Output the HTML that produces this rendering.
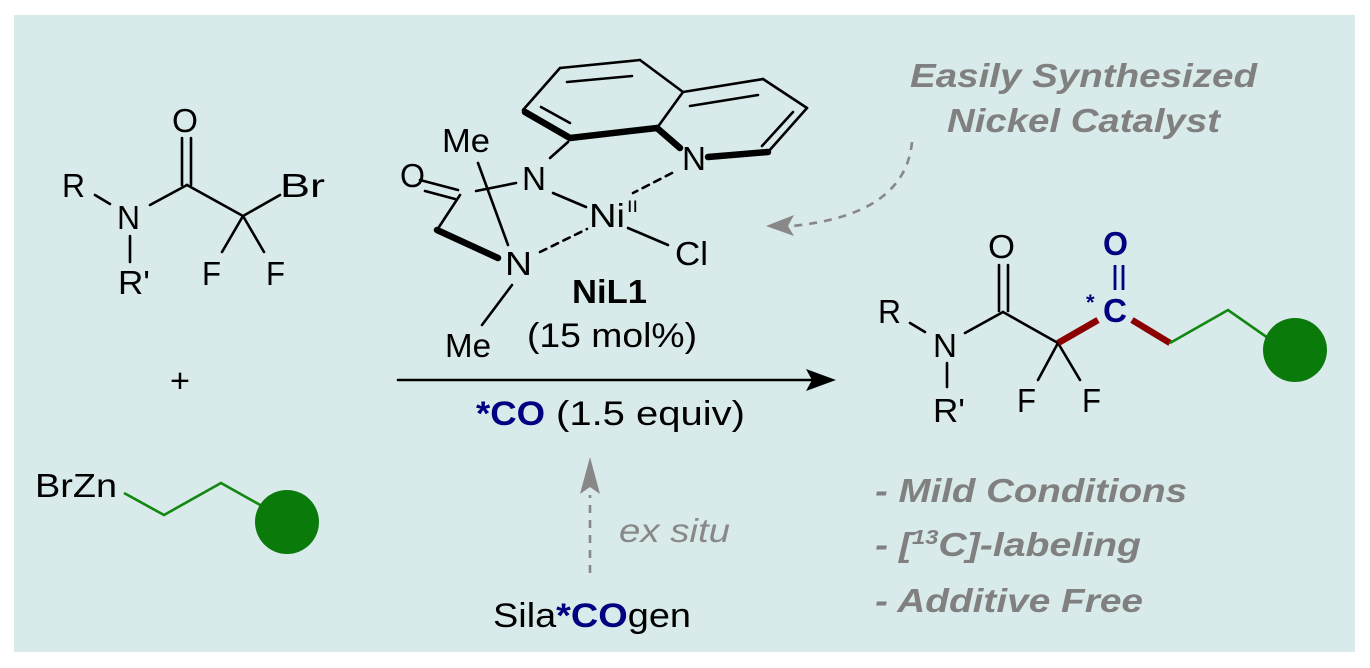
<!DOCTYPE html>
<html><head><meta charset="utf-8"><style>
html,body{margin:0;padding:0;background:#fff;}
svg{display:block;}
text{font-family:"Liberation Sans",Arial,sans-serif;}
</style></head><body>
<svg width="1370" height="668" viewBox="0 0 1370 668" xmlns="http://www.w3.org/2000/svg">
<rect x="14" y="15" width="1341" height="637" fill="#d9eaea"/>
<g stroke="#000" stroke-width="2.6" fill="none" stroke-linecap="round">
<line x1="95" y1="195" x2="110" y2="204"/>
<line x1="150" y1="205" x2="187" y2="185"/>
<line x1="182" y1="185" x2="182" y2="138"/>
<line x1="191" y1="185" x2="191" y2="138"/>
<line x1="187" y1="185" x2="243" y2="216"/>
<line x1="243" y1="216" x2="280" y2="195"/>
<line x1="243" y1="216" x2="222" y2="252"/>
<line x1="243" y1="216" x2="264" y2="252"/>
<line x1="130" y1="236" x2="130" y2="262"/>
<line x1="523" y1="110" x2="560" y2="68"/>
<line x1="560" y1="68" x2="640" y2="60"/>
<line x1="567" y1="82" x2="632" y2="76"/>
<line x1="640" y1="60" x2="683" y2="92"/>
<line x1="683" y1="92" x2="657" y2="128"/>
<line x1="683" y1="92" x2="763" y2="79"/>
<line x1="690" y1="106" x2="758" y2="95"/>
<line x1="763" y1="79" x2="807" y2="108"/>
<line x1="807" y1="108" x2="768" y2="152"/>
<line x1="793" y1="112" x2="762" y2="146"/>
<line x1="541" y1="107" x2="570" y2="123"/>
<line x1="568" y1="142" x2="550" y2="158"/>
<line x1="460" y1="195" x2="437" y2="230"/>
<line x1="458" y1="190" x2="420" y2="180"/>
<line x1="455" y1="199" x2="425" y2="191"/>
<line x1="476" y1="191" x2="516" y2="183"/>
<line x1="478" y1="163" x2="508" y2="245"/>
<line x1="512" y1="285" x2="482" y2="325"/>
<line x1="553" y1="193" x2="586" y2="207"/>
<line x1="628" y1="228" x2="668" y2="245"/>
<line x1="540" y1="252" x2="587" y2="229" stroke-dasharray="7,6"/>
<line x1="672" y1="173" x2="633" y2="193" stroke-dasharray="7,6"/>
<line x1="910" y1="323" x2="925" y2="332"/>
<line x1="965" y1="333" x2="1003" y2="312"/>
<line x1="999" y1="311" x2="999" y2="265"/>
<line x1="1008" y1="311" x2="1008" y2="265"/>
<line x1="1003" y1="312" x2="1058" y2="343"/>
<line x1="1058" y1="343" x2="1038" y2="380"/>
<line x1="1058" y1="343" x2="1080" y2="380"/>
<line x1="947" y1="363" x2="947" y2="387"/>
<line x1="398" y1="380" x2="812" y2="380"/>
</g>
<g stroke="#000" stroke-width="6.5" stroke-linecap="round" fill="none">
<line x1="525" y1="112" x2="570" y2="138"/>
<line x1="570" y1="138" x2="657" y2="128"/>
<line x1="657" y1="128" x2="680" y2="148"/>
<line x1="708" y1="157" x2="768" y2="152"/>
<line x1="437" y1="230" x2="498" y2="258"/>
</g>
<polygon points="836,380 806,369 812,380 806,391" fill="#000"/>
<g fill="#000" font-size="33">
<text x="62" y="197" textLength="23" lengthAdjust="spacingAndGlyphs">R</text>
<text x="117" y="229" textLength="23" lengthAdjust="spacingAndGlyphs">N</text>
<text x="118" y="294" textLength="32" lengthAdjust="spacingAndGlyphs">R'</text>
<text x="172" y="132" textLength="26" lengthAdjust="spacingAndGlyphs">O</text>
<text x="280" y="197" textLength="45" lengthAdjust="spacingAndGlyphs">Br</text>
<text x="202" y="285" textLength="19" lengthAdjust="spacingAndGlyphs">F</text>
<text x="266" y="285" textLength="19" lengthAdjust="spacingAndGlyphs">F</text>
<text x="170" y="392" textLength="20" lengthAdjust="spacingAndGlyphs">+</text>
<text x="35" y="497" textLength="82" lengthAdjust="spacingAndGlyphs">BrZn</text>
<text x="442" y="152" textLength="48" lengthAdjust="spacingAndGlyphs">Me</text>
<text x="400" y="187" textLength="25" lengthAdjust="spacingAndGlyphs">O</text>
<text x="522" y="190" textLength="24" lengthAdjust="spacingAndGlyphs">N</text>
<text x="682" y="170" textLength="24" lengthAdjust="spacingAndGlyphs">N</text>
<text x="589" y="227" textLength="36" lengthAdjust="spacingAndGlyphs">Ni</text>
<text x="627" y="212" font-size="17" textLength="11" lengthAdjust="spacingAndGlyphs">II</text>
<text x="675" y="265" textLength="33" lengthAdjust="spacingAndGlyphs">Cl</text>
<text x="505" y="275" textLength="27" lengthAdjust="spacingAndGlyphs">N</text>
<text x="572" y="303" font-weight="bold" textLength="75" lengthAdjust="spacingAndGlyphs">NiL1</text>
<text x="445" y="357" textLength="46" lengthAdjust="spacingAndGlyphs">Me</text>
<text x="527" y="347" font-size="34" textLength="170" lengthAdjust="spacingAndGlyphs">(15 mol%)</text>
<text x="556" y="425" font-size="34" textLength="189" lengthAdjust="spacingAndGlyphs">(1.5 equiv)</text>
<text x="493" y="627" font-size="34" textLength="198" lengthAdjust="spacingAndGlyphs">Sila<tspan fill="#000080" font-weight="bold">*CO</tspan>gen</text>
<text x="878" y="323" textLength="23" lengthAdjust="spacingAndGlyphs">R</text>
<text x="933" y="357" textLength="24" lengthAdjust="spacingAndGlyphs">N</text>
<text x="933" y="422" textLength="32" lengthAdjust="spacingAndGlyphs">R'</text>
<text x="988" y="258" textLength="27" lengthAdjust="spacingAndGlyphs">O</text>
<text x="1017" y="412" textLength="19" lengthAdjust="spacingAndGlyphs">F</text>
<text x="1082" y="412" textLength="19" lengthAdjust="spacingAndGlyphs">F</text>
</g>
<text x="476" y="425" font-size="34" font-weight="bold" fill="#000080" textLength="69" lengthAdjust="spacingAndGlyphs">*CO</text>
<g fill="#000080" font-weight="bold" font-size="33">
<text x="1103" y="322" textLength="24" lengthAdjust="spacingAndGlyphs">C</text>
<text x="1103" y="255" textLength="25" lengthAdjust="spacingAndGlyphs">O</text>
<text x="1086" y="310" font-size="22">*</text>
</g>
<g stroke="#000080" stroke-width="2.8">
<line x1="1115" y1="265" x2="1115" y2="290"/>
<line x1="1123" y1="265" x2="1123" y2="290"/>
</g>
<g stroke="#8b0000" stroke-width="6.5" stroke-linecap="butt">
<line x1="1058" y1="343" x2="1098" y2="320"/>
<line x1="1132" y1="320" x2="1170" y2="343"/>
</g>
<g stroke="#118811" stroke-width="2.6" fill="none">
<polyline points="1170,343 1228,310 1268,338"/>
<polyline points="124,493 164,515 221,483 262,506"/>
</g>
<circle cx="1295" cy="350" r="32" fill="#0a7a0a"/>
<circle cx="287" cy="522" r="32" fill="#0a7a0a"/>
<g stroke="#888" stroke-width="2.6" fill="none" stroke-dasharray="8,7">
<path d="M912,142 Q905,215 792,226"/>
<line x1="590" y1="573" x2="590" y2="495"/>
</g>
<polygon points="766,226 794,215 788,226 794,236" fill="#888"/>
<polygon points="590,457 580,494 590,487 600,494" fill="#888"/>
<g fill="#808080" font-size="33" font-weight="bold" font-style="italic">
<text x="910" y="87" textLength="347" lengthAdjust="spacingAndGlyphs">Easily Synthesized</text>
<text x="947" y="132" textLength="273" lengthAdjust="spacingAndGlyphs">Nickel Catalyst</text>
<text x="875" y="502" textLength="312" lengthAdjust="spacingAndGlyphs">- Mild Conditions</text>
<text x="875" y="556" textLength="266" lengthAdjust="spacingAndGlyphs">- [<tspan font-size="20" dy="-12">13</tspan><tspan dy="12">C]-labeling</tspan></text>
<text x="875" y="612" textLength="268" lengthAdjust="spacingAndGlyphs">- Additive Free</text>
</g>
<text x="619" y="542" font-size="33" font-style="italic" fill="#888" textLength="111" lengthAdjust="spacingAndGlyphs">ex situ</text>
</svg>
</body></html>
